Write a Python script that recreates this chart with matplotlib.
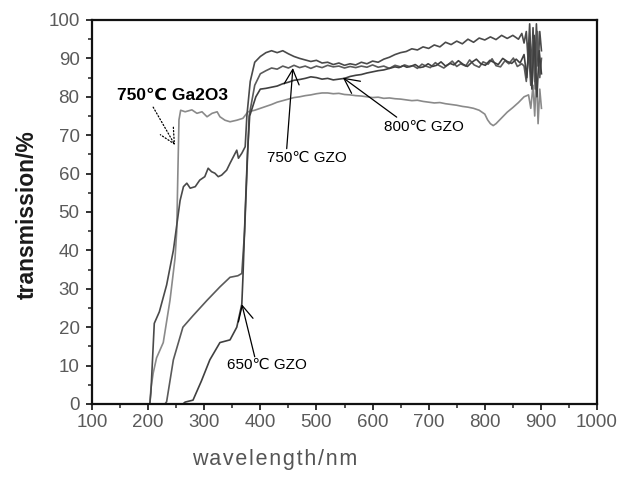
import matplotlib
matplotlib.use("Agg")
import matplotlib.pyplot as plt
import numpy as np

# ---------------- data ----------------
# 750C Ga2O3
ga_x = [200, 203, 205, 209, 215, 227, 239, 248, 251, 253, 255, 258, 266, 278, 287, 296, 305, 314, 323, 328, 337,
        346, 358, 369, 378, 390, 400, 410, 420, 430, 440, 450, 460, 470, 480, 490, 500, 510, 520, 530, 540,
        550, 560, 570, 580, 590, 600, 610, 620, 630, 640, 650, 660, 670, 680, 690, 700, 710, 720, 730, 740,
        750, 760, 770, 780, 790, 800, 805, 810, 815, 820, 830, 840, 850, 860, 870, 878, 882, 886, 889, 892,
        895, 898, 901]
ga_y = [0, 0, 4, 8, 12, 16, 27, 38, 45, 60, 74, 76.5, 76.1, 76.6, 75.7, 76.1, 74.8, 75.7, 76.1, 74.8, 73.9,
        73.5, 73.9, 74.4, 76.1, 76.5, 77, 77.5, 78, 78.6, 79, 79.4, 79.8, 80, 80.3, 80.5, 80.8, 81, 81, 80.8, 80.9,
        80.6, 80.5, 80.3, 80.2, 80, 79.8, 79.9, 79.6, 79.7, 79.5, 79.4, 79.2, 79, 79.1, 78.8, 78.6, 78.4, 78.5, 78.2, 78,
        77.8, 77.5, 77.3, 77, 76.5, 75.5, 74, 73, 72.5, 73, 74.5, 76, 77.2, 78.5, 80, 80.5, 77, 83, 75, 86,
        73, 82, 77]

# top curve (GZO)
a_x = [203, 205, 206, 211, 220, 233, 245, 257, 263, 269, 275, 284, 292, 301, 307, 313, 319, 325, 331, 340, 346,
       352, 358, 361, 367, 373, 376, 382, 390, 400, 410, 420, 430, 440, 450, 460, 470, 480, 490, 500, 510,
       520, 530, 540, 550, 560, 570, 580, 590, 600, 610, 620, 630, 640, 650, 660, 670, 680, 690, 700, 710,
       720, 730, 740, 750, 760, 770, 780, 790, 800, 810, 820, 830, 840, 850, 860, 866, 870, 874, 877, 880,
       883, 886, 889, 892, 895, 898, 901]
a_y = [0, 3, 6, 21, 24, 31, 40, 53, 56.6, 57.5, 56.2, 56.6, 58.3, 59.2, 61.4, 60.5, 60.1, 59.2, 59.6, 60.9, 62.7,
       64.4, 66.1, 64, 65.3, 67, 75, 84, 89, 90.5, 91.5, 92, 91.5, 92, 91.2, 90.5, 90, 89.6, 89.2, 89.5, 88.8,
       89, 88.4, 88.8, 88.2, 88.6, 88.3, 89, 88.6, 89.3, 89, 89.8, 90.3, 91, 91.5, 91.8, 92.5, 92.2, 93, 92.6, 93.5,
       93, 94.2, 93.6, 94.5, 93.8, 95, 94.2, 95.3, 94.8, 95.6, 94.9, 96, 95.2, 96, 95, 96.5, 94, 97, 90, 99,
       86, 98, 84, 99, 88, 97, 92]

# 750C GZO (middle curve)
c_x = [230, 233, 245, 262, 280, 305, 328, 346, 360, 367, 372, 376, 380, 390, 400, 410, 420, 430, 440, 450, 460,
       470, 480, 490, 500, 510, 520, 530, 540, 550, 560, 570, 580, 590, 600, 610, 620, 630, 640, 650, 657,
       665, 672, 680, 688, 695, 703, 712, 718, 727, 735, 742, 750, 757, 766, 773, 781, 790, 797, 806, 813,
       820, 828, 836, 843, 851, 858, 866, 870, 874, 878, 882, 886, 890, 894, 898, 901]
c_y = [0, 0.6, 11.5, 20, 23, 27, 30.5, 33, 33.4, 34, 45, 60, 75, 83, 86, 86.8, 87.5, 87.2, 88, 87.5, 88.2,
       87.6, 88, 87.4, 88, 87.6, 88.2, 87.8, 88, 87.5, 87.9, 87.6, 88, 87.7, 88.3, 87.7, 88, 87.4, 88.2, 87.8, 88.3,
       87.9, 88.1, 87.4, 88.5, 88.0, 87.6, 88.9, 88.2, 87.5, 88.4, 89.3, 87.9, 88.6, 88.0, 89.6, 88.3, 87.7, 89.1,
       88.5, 89.9, 88.1, 87.8, 89.4, 88.6, 90.1, 87.9, 88.6, 88, 84, 92, 83, 95, 82, 97, 85, 90]

# 800C GZO (third curve)
d_x = [262, 266, 280, 295, 310, 328, 346, 358, 367, 369, 373, 377, 381, 392, 400, 410, 420, 430, 440, 450, 460,
       470, 480, 490, 500, 510, 520, 530, 540, 550, 560, 570, 580, 590, 600, 610, 620, 630, 640, 647, 655,
       661, 668, 676, 684, 691, 699, 707, 714, 722, 730, 738, 745, 753, 761, 769, 777, 785, 793, 801, 809,
       817, 824, 832, 840, 848, 856, 863, 870, 875, 879, 884, 888, 893, 897, 901]
d_y = [0, 0.5, 1, 6, 11.5, 16, 16.7, 20, 26, 33, 50, 65, 75, 80, 82, 82.2, 82.5, 82.8, 83.4, 83.8, 84.3,
       84.5, 84.8, 85.2, 85, 84.6, 84.8, 84.4, 84.6, 84.8, 85.3, 85.6, 85.8, 86.2, 86.5, 86.8, 87, 87.4, 87.8, 87.6, 88.1,
       87.7, 87.9, 88.4, 87.6, 87.8, 88.6, 87.9, 88.2, 89.1, 88.0, 88.7, 88.3, 89.4, 88.5, 87.9, 89.0, 89.8, 88.6,
       88.2, 89.5, 88.9, 88.4, 90.0, 89.2, 88.7, 89.8, 88.8, 91, 85, 94, 82, 96, 80, 92, 86]

x_ticks = [100, 200, 300, 400, 500, 600, 700, 800, 900, 1000]
y_ticks = [0, 10, 20, 30, 40, 50, 60, 70, 80, 90, 100]

# ---------------- figure ----------------
W, H = 630, 487
fig = plt.figure(figsize=(W / 100, H / 100), dpi=100)
ax = fig.add_axes([92 / W, 1 - 404 / H, (597 - 92) / W, (404 - 20) / H])

ax.plot(ga_x, ga_y, color="#8a8a8a", lw=1.2)
ax.plot(a_x, a_y, color="#4a4a4a", lw=1.2)
ax.plot(c_x, c_y, color="#5a5a5a", lw=1.2)
ax.plot(d_x, d_y, color="#404040", lw=1.2)

ax.set_xlim(100, 1000)
ax.set_ylim(0, 100)
ax.set_xticks(x_ticks)
ax.set_yticks(y_ticks)
ax.set_xticks(np.arange(150, 1000, 100), minor=True)
ax.set_yticks(np.arange(5, 100, 10), minor=True)

for s in ax.spines.values():
    s.set_linewidth(1.6)
    s.set_color("#111111")

tick_font = ["Liberation Sans", "DejaVu Sans"]
ax.tick_params(axis="both", which="major", direction="out", length=4, width=1.3,
               labelsize=13.5, labelcolor="#5a5a5a", color="#222222")
ax.tick_params(axis="both", which="minor", direction="out", length=2.8, width=1.1, color="#222222")
ax.tick_params(axis="x", pad=3.5)
ax.tick_params(axis="y", pad=5)
for lab in ax.get_xticklabels() + ax.get_yticklabels():
    lab.set_family(tick_font)

fig.text(27 / W, 1 - 215 / H, "transmission/%", rotation=90, fontsize=16.5, fontweight="bold",
         color="#1a1a1a", family=tick_font, ha="center", va="center")
fig.text(275 / W, 1 - 460 / H, "\u200a".join("wavelength/nm"), fontsize=15.5, color="#555555",
         family=tick_font, ha="center", va="center")

fam = ["Liberation Sans", "DejaVu Sans"]
head = "->,head_length=0.6,head_width=0.3"

ax.text(242.6, 80.5, "750℃ Ga2O3", fontsize=12.5, fontweight="bold", family=fam,
        ha="center", va="center")
ax.annotate("", xy=(248, 67.4), xytext=(209, 77.3),
            arrowprops=dict(arrowstyle=head, color="black", lw=0.9, ls=":", mutation_scale=18,
                            shrinkA=0, shrinkB=0))

ax.text(483, 64, "750℃ GZO", fontsize=11, family=fam, ha="center", va="center")
ax.annotate("", xy=(458, 87.5), xytext=(447, 66.5),
            arrowprops=dict(arrowstyle=head, color="black", lw=0.9, mutation_scale=18,
                            shrinkA=0, shrinkB=0))

ax.text(692, 72.1, "800℃ GZO", fontsize=11, family=fam, ha="center", va="center")
ax.annotate("", xy=(547, 85), xytext=(643, 74.7),
            arrowprops=dict(arrowstyle=head, color="black", lw=0.9, mutation_scale=18,
                            shrinkA=0, shrinkB=0))

ax.text(412, 10.2, "650℃ GZO", fontsize=11, family=fam, ha="center", va="center")
ax.annotate("", xy=(367, 26), xytext=(390, 12.3),
            arrowprops=dict(arrowstyle=head, color="black", lw=0.9, mutation_scale=18,
                            shrinkA=0, shrinkB=0))

fig.savefig("out.png", dpi=100)
